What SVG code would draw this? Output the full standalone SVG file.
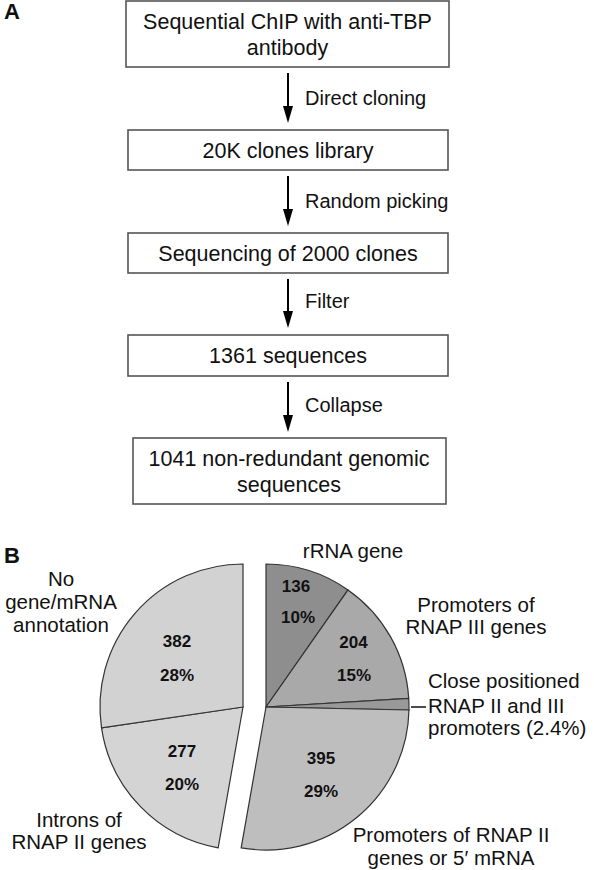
<svg xmlns="http://www.w3.org/2000/svg" width="594" height="870" viewBox="0 0 594 870">
<style>
text{font-family:"Liberation Sans",Arial,sans-serif;fill:#111}
.box{fill:#fff;stroke:#555;stroke-width:1.6}
.bt{font-size:21.5px;text-anchor:middle}
.lbl{font-size:20px}
.pl{font-size:20.5px}
.num{font-size:17px;font-weight:bold;text-anchor:middle}
.panel{font-size:22px;font-weight:bold}
.slice{stroke:#333;stroke-width:1.2}
.arrow{stroke:#000;stroke-width:2;fill:none;marker-end:url(#ah)}
</style>
<defs>
<marker id="ah" markerUnits="userSpaceOnUse" viewBox="0 0 17 10" refX="11" refY="5" markerWidth="17" markerHeight="10" orient="auto">
<path d="M0,0 L17,5 L0,10 Z" fill="#000"/>
</marker>
</defs>
<text class="panel" x="4" y="19">A</text>
<text class="panel" x="4" y="563">B</text>
<g id="n1"><rect class="box" x="126" y="1" width="323" height="66"/><text class="bt" x="287.5" y="29">Sequential ChIP with anti-TBP</text><text class="bt" x="287.5" y="55">antibody</text></g>
<g id="n2"><rect class="box" x="128" y="130" width="320" height="40"/><text class="bt" x="288" y="158">20K clones library</text></g>
<g id="n3"><rect class="box" x="128" y="233" width="320" height="40"/><text class="bt" x="288" y="261">Sequencing of 2000 clones</text></g>
<g id="n4"><rect class="box" x="128" y="335" width="320" height="41"/><text class="bt" x="288" y="363">1361 sequences</text></g>
<g id="n5"><rect class="box" x="133" y="438" width="313" height="66"/><text class="bt" x="289" y="466">1041 non-redundant genomic</text><text class="bt" x="289" y="492">sequences</text></g>
<g id="connectors">
<line class="arrow" x1="288" y1="73" x2="288" y2="117"/>
<line class="arrow" x1="288" y1="176" x2="288" y2="220"/>
<line class="arrow" x1="288" y1="279" x2="288" y2="322"/>
<line class="arrow" x1="288" y1="382" x2="288" y2="426"/>
<text class="lbl" x="305" y="105">Direct cloning</text>
<text class="lbl" x="305" y="208">Random picking</text>
<text class="lbl" x="305" y="308">Filter</text>
<text class="lbl" x="305" y="412">Collapse</text>
</g>
<g id="pie">
<path id="s-rrna" class="slice" fill="#8e8e8e" d="M266,707 L266,564 A143,143 0 0 1 348.0,589.9 Z"/>
<path id="s-rnap3" class="slice" fill="#a9a9a9" d="M266,707 L348.0,589.9 A143,143 0 0 1 408.7,698.3 Z"/>
<path id="s-close" class="slice" fill="#999" d="M266,707 L408.7,698.3 A143,143 0 0 1 408.97,710.0 Z"/>
<path id="s-rnap2" class="slice" fill="#bebebe" d="M266,707 L408.97,710.0 A143,143 0 0 1 241.17,847.83 Z"/>
<path id="s-introns" class="slice" fill="#d4d4d4" d="M243,707 L218.17,847.83 A143,143 0 0 1 101.53,727.89 Z"/>
<path id="s-nogene" class="slice" fill="#d2d2d2" d="M243,707 L101.53,727.89 A143,143 0 0 1 243,564 Z"/>
<text class="num" x="296" y="592">136</text><text class="num" x="298" y="623">10%</text>
<text class="num" x="353.5" y="648">204</text><text class="num" x="354" y="681">15%</text>
<text class="num" x="177" y="647">382</text><text class="num" x="177" y="681">28%</text>
<text class="num" x="182" y="757">277</text><text class="num" x="182" y="790">20%</text>
<text class="num" x="321" y="764">395</text><text class="num" x="321" y="797">29%</text>
<line x1="411" y1="707" x2="426" y2="707" stroke="#111" stroke-width="1.5"/>
<text class="pl" x="353" y="558" text-anchor="middle">rRNA gene</text>
<text class="pl" x="61" y="586" text-anchor="middle">No</text>
<text class="pl" x="61" y="609" text-anchor="middle">gene/mRNA</text>
<text class="pl" x="61" y="632" text-anchor="middle">annotation</text>
<text class="pl" x="476" y="612" text-anchor="middle">Promoters of</text>
<text class="pl" x="476" y="634" text-anchor="middle">RNAP III genes</text>
<text class="pl" x="428" y="688">Close positioned</text>
<text class="pl" x="428" y="713">RNAP II and III</text>
<text class="pl" x="428" y="735">promoters (2.4%)</text>
<text class="pl" x="79" y="827" text-anchor="middle">Introns of</text>
<text class="pl" x="79" y="849" text-anchor="middle">RNAP II genes</text>
<text class="pl" x="451" y="842" text-anchor="middle">Promoters of RNAP II</text>
<text class="pl" x="451" y="865" text-anchor="middle">genes or 5′ mRNA</text>
</g>
</svg>
